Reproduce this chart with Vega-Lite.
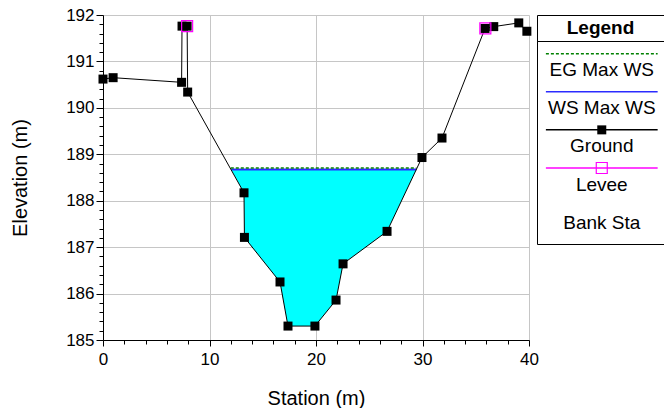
{
  "$schema": "https://vega.github.io/schema/vega-lite/v6.json",
  "background": "white",
  "padding": {"left": 10, "top": 6, "right": 0, "bottom": 0},
  "bounds": "flush",
  "spacing": 8,
  "resolve": {"scale": {"color": "independent", "strokeDash": "independent"}},
  "config": {"font": "Liberation Sans", "view": {"stroke": null}},
  "datasets": {
    "ground": [
      {"station": 0, "elev": 190.62},
      {"station": 0.95, "elev": 190.65},
      {"station": 7.38, "elev": 190.55},
      {"station": 7.42, "elev": 191.76},
      {"station": 7.9, "elev": 191.76},
      {"station": 7.95, "elev": 190.34},
      {"station": 13.24, "elev": 188.17},
      {"station": 13.28, "elev": 187.21},
      {"station": 16.62, "elev": 186.25},
      {"station": 17.37, "elev": 185.3},
      {"station": 19.9, "elev": 185.3},
      {"station": 21.88, "elev": 185.86},
      {"station": 22.54, "elev": 186.64},
      {"station": 26.67, "elev": 187.34},
      {"station": 29.95, "elev": 188.93},
      {"station": 31.83, "elev": 189.35},
      {"station": 35.87, "elev": 191.71},
      {"station": 36.69, "elev": 191.75},
      {"station": 39.04, "elev": 191.83},
      {"station": 39.8, "elev": 191.65}
    ],
    "water": [
      {"station": 12.04, "ground": 188.67, "ws": 188.67},
      {"station": 13.24, "ground": 188.17, "ws": 188.67},
      {"station": 13.28, "ground": 187.21, "ws": 188.67},
      {"station": 16.62, "ground": 186.25, "ws": 188.67},
      {"station": 17.37, "ground": 185.3, "ws": 188.67},
      {"station": 19.9, "ground": 185.3, "ws": 188.67},
      {"station": 21.88, "ground": 185.86, "ws": 188.67},
      {"station": 22.54, "ground": 186.64, "ws": 188.67},
      {"station": 26.67, "ground": 187.34, "ws": 188.67},
      {"station": 29.42, "ground": 188.67, "ws": 188.67}
    ],
    "profiles": [
      {"profile": "WS Max WS", "start": 12.04, "end": 29.42, "elev": 188.67},
      {"profile": "EG Max WS", "start": 12.0, "end": 29.43, "elev": 188.705}
    ],
    "levee": [
      {"station": 7.9, "elev": 191.76},
      {"station": 35.9, "elev": 191.71}
    ],
    "legend": [
      {"series": "EG Max WS"},
      {"series": "WS Max WS"},
      {"series": "Ground"},
      {"series": "Levee"},
      {"series": "Bank Sta"}
    ]
  },
  "hconcat": [
    {
      "width": 426,
      "height": 325,
      "resolve": {"axis": {"x": "independent", "y": "independent"}},
      "layer": [
        {
          "data": {"name": "water"},
          "mark": {"type": "area", "color": "#00ffff", "opacity": 1},
          "encoding": {
            "x": {
              "field": "station", "type": "quantitative",
              "scale": {"domain": [0, 40], "nice": false, "zero": false},
              "axis": {
                "title": "Station (m)", "orient": "bottom",
                "values": [0, 10, 20, 30, 40],
                "tickSize": 6,
                "grid": true, "gridColor": "#c6c6c6", "gridWidth": 1,
                "domainColor": "black", "tickColor": "black",
                "labelColor": "black", "titleColor": "black",
                "labelFontSize": 17, "titleFontSize": 20, "titleFontWeight": "normal",
                "labelFlush": false, "labelOverlap": false,
                "labelPadding": 5, "titlePadding": 21
              }
            },
            "y": {
              "field": "ground", "type": "quantitative",
              "scale": {"domain": [185, 192], "nice": false, "zero": false},
              "axis": {
                "title": "Elevation (m)", "orient": "left",
                "values": [185, 186, 187, 188, 189, 190, 191, 192],
                "format": "d",
                "tickSize": 7,
                "grid": true, "gridColor": "#c6c6c6", "gridWidth": 1,
                "domainColor": "black", "tickColor": "black",
                "labelColor": "black", "titleColor": "black",
                "labelFontSize": 17, "titleFontSize": 20, "titleFontWeight": "normal",
                "labelFlush": false, "labelOverlap": false,
                "labelPadding": 2, "titlePadding": 35
              }
            },
            "y2": {"field": "ws"}
          }
        },
        {
          "data": {"name": "profiles"},
          "mark": {"type": "rule"},
          "encoding": {
            "x": {"field": "start", "type": "quantitative", "axis": null},
            "x2": {"field": "end"},
            "y": {"field": "elev", "type": "quantitative", "axis": null},
            "color": {"field": "profile", "type": "nominal", "scale": {"domain": ["WS Max WS", "EG Max WS"], "range": ["#2b2bff", "#008000"]}, "legend": null},
            "strokeWidth": {"field": "profile", "type": "nominal", "scale": {"domain": ["WS Max WS", "EG Max WS"], "range": [2, 1.3]}, "legend": null},
            "strokeDash": {"field": "profile", "type": "nominal", "scale": {"domain": ["WS Max WS", "EG Max WS"], "range": [[1, 0], [3, 2]]}, "legend": null}
          }
        },
        {
          "data": {"name": "ground"},
          "mark": {"type": "line", "color": "black", "strokeWidth": 1},
          "encoding": {
            "x": {
              "field": "station", "type": "quantitative",
              "axis": {
                "orient": "bottom", "title": null, "labels": false, "grid": false, "domain": false,
                "values": [2,4,6,8,12,14,16,18,22,24,26,28,32,34,36,38],
                "tickSize": 4, "tickColor": "black"
              }
            },
            "y": {
              "field": "elev", "type": "quantitative",
              "axis": {
                "orient": "left", "title": null, "labels": false, "grid": false, "domain": false,
                "values": [185.2,185.4,185.6,185.8,186.2,186.4,186.6,186.8,187.2,187.4,187.6,187.8,188.2,188.4,188.6,188.8,189.2,189.4,189.6,189.8,190.2,190.4,190.6,190.8,191.2,191.4,191.6,191.8],
                "tickSize": 4, "tickColor": "black"
              }
            }
          }
        },
        {
          "data": {"name": "ground"},
          "mark": {"type": "square", "color": "black", "size": 81, "opacity": 1},
          "encoding": {
            "x": {"field": "station", "type": "quantitative", "axis": null},
            "y": {"field": "elev", "type": "quantitative", "axis": null}
          }
        },
        {
          "data": {"name": "levee"},
          "mark": {"type": "point", "shape": "square", "filled": false, "color": "#ff00ff", "size": 121, "strokeWidth": 1.2, "opacity": 1},
          "encoding": {
            "x": {"field": "station", "type": "quantitative", "axis": null},
            "y": {"field": "elev", "type": "quantitative", "axis": null}
          }
        }
      ]
    },
    {
      "spacing": 0,
      "bounds": "flush",
      "vconcat": [
        {
          "width": 127,
          "height": 26,
          "view": {"stroke": "black", "strokeWidth": 1},
          "data": {"values": [{"t": "Legend"}]},
          "mark": {"type": "text", "fontSize": 19, "fontWeight": "bold", "color": "black", "baseline": "middle"},
          "encoding": {"text": {"field": "t"}}
        },
        {
          "width": 127,
          "height": 203,
          "view": {"stroke": "black", "strokeWidth": 1},
          "data": {"name": "legend"},
          "layer": [
            {
              "transform": [{"filter": "datum.series !== 'Bank Sta'"}],
              "mark": {"type": "rule", "strokeWidth": 1.5},
              "encoding": {
                "x": {"datum": 0.07, "type": "quantitative", "scale": {"domain": [0, 1], "nice": false, "zero": false}, "axis": null},
                "x2": {"datum": 0.95},
                "y": {"field": "series", "type": "nominal", "scale": {"type": "band", "domain": ["EG Max WS", "WS Max WS", "Ground", "Levee", "Bank Sta"], "paddingInner": 0, "paddingOuter": 0.163, "align": 0.15}, "axis": null},
                "yOffset": {"datum": "line", "scale": {"type": "point", "domain": ["line", "label"], "padding": 0.65}},
                "color": {"field": "series", "type": "nominal", "scale": {"domain": ["EG Max WS", "WS Max WS", "Ground", "Levee", "Bank Sta"], "range": ["#008000", "#2b2bff", "black", "#ff00ff", "white"]}, "legend": null},
                "strokeDash": {"field": "series", "type": "nominal", "scale": {"domain": ["EG Max WS", "WS Max WS", "Ground", "Levee", "Bank Sta"], "range": [[3, 2], [1, 0], [1, 0], [1, 0], [1, 0]]}, "legend": null}
              }
            },
            {
              "transform": [{"filter": "datum.series === 'Ground'"}],
              "mark": {"type": "square", "color": "black", "size": 81, "opacity": 1},
              "encoding": {
                "x": {"datum": 0.51, "type": "quantitative"},
                "y": {"field": "series", "type": "nominal"},
                "yOffset": {"datum": "line"}
              }
            },
            {
              "transform": [{"filter": "datum.series === 'Levee'"}],
              "mark": {"type": "point", "shape": "square", "filled": false, "color": "#ff00ff", "size": 121, "strokeWidth": 1.2, "opacity": 1},
              "encoding": {
                "x": {"datum": 0.51, "type": "quantitative"},
                "y": {"field": "series", "type": "nominal"},
                "yOffset": {"datum": "line"}
              }
            },
            {
              "mark": {"type": "text", "fontSize": 19, "color": "black", "baseline": "middle", "align": "center"},
              "encoding": {
                "x": {"datum": 0.51, "type": "quantitative"},
                "y": {"field": "series", "type": "nominal"},
                "yOffset": {"datum": "label"},
                "text": {"field": "series"}
              }
            }
          ]
        }
      ]
    }
  ]
}
